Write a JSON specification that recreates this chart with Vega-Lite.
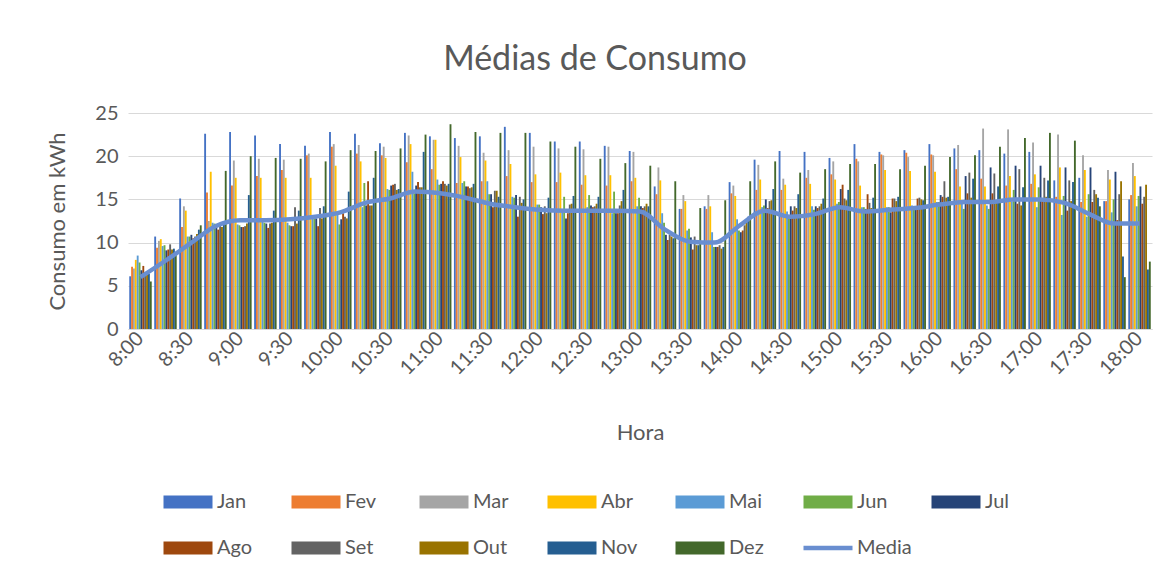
{
"$schema": "https://vega.github.io/schema/vega-lite/v6.json",
"width": 1024,
"height": 216,
"autosize": {"type": "none"},
"padding": {"left": 128, "top": 113, "right": 17, "bottom": 244},
"background": "white",
"config": {"font": "Lato", "view": {"stroke": null}},
"title": {"text": "Médias de Consumo", "font": "Lato", "fontSize": 34, "fontWeight": "normal", "color": "#595959", "anchor": "middle", "frame": "group", "offset": 26, "dx": -45},
"data": {"values": [
{"h":"8:00","m":"Jan","v":6.1},{"h":"8:00","m":"Fev","v":7.2},{"h":"8:00","m":"Mar","v":7.0},{"h":"8:00","m":"Abr","v":8.0},{"h":"8:00","m":"Mai","v":8.5},{"h":"8:00","m":"Jun","v":7.7},{"h":"8:00","m":"Jul","v":6.8},{"h":"8:00","m":"Ago","v":7.3},{"h":"8:00","m":"Set","v":6.6},{"h":"8:00","m":"Out","v":6.7},{"h":"8:00","m":"Nov","v":6.4},{"h":"8:00","m":"Dez","v":5.5},{"h":"8:00","m":"Media","v":6.0},
{"h":"8:15","m":"Jan","v":10.7},{"h":"8:15","m":"Fev","v":9.4},{"h":"8:15","m":"Mar","v":10.2},{"h":"8:15","m":"Abr","v":10.4},{"h":"8:15","m":"Mai","v":9.6},{"h":"8:15","m":"Jun","v":9.7},{"h":"8:15","m":"Jul","v":9.1},{"h":"8:15","m":"Ago","v":9.2},{"h":"8:15","m":"Set","v":9.8},{"h":"8:15","m":"Out","v":9.2},{"h":"8:15","m":"Nov","v":9.3},{"h":"8:15","m":"Dez","v":8.9},{"h":"8:15","m":"Media","v":7.9},
{"h":"8:30","m":"Jan","v":15.1},{"h":"8:30","m":"Fev","v":11.8},{"h":"8:30","m":"Mar","v":14.2},{"h":"8:30","m":"Abr","v":13.7},{"h":"8:30","m":"Mai","v":10.7},{"h":"8:30","m":"Jun","v":10.7},{"h":"8:30","m":"Jul","v":10.9},{"h":"8:30","m":"Ago","v":10.5},{"h":"8:30","m":"Set","v":10.7},{"h":"8:30","m":"Out","v":11.0},{"h":"8:30","m":"Nov","v":11.5},{"h":"8:30","m":"Dez","v":12.0},{"h":"8:30","m":"Media","v":9.9},
{"h":"8:45","m":"Jan","v":22.6},{"h":"8:45","m":"Fev","v":15.8},{"h":"8:45","m":"Mar","v":12.5},{"h":"8:45","m":"Abr","v":18.2},{"h":"8:45","m":"Mai","v":12.3},{"h":"8:45","m":"Jun","v":12.2},{"h":"8:45","m":"Jul","v":11.8},{"h":"8:45","m":"Ago","v":11.5},{"h":"8:45","m":"Set","v":12.0},{"h":"8:45","m":"Out","v":11.8},{"h":"8:45","m":"Nov","v":12.5},{"h":"8:45","m":"Dez","v":18.3},{"h":"8:45","m":"Media","v":11.9},
{"h":"9:00","m":"Jan","v":22.8},{"h":"9:00","m":"Fev","v":16.6},{"h":"9:00","m":"Mar","v":19.5},{"h":"9:00","m":"Abr","v":17.5},{"h":"9:00","m":"Mai","v":12.1},{"h":"9:00","m":"Jun","v":12.0},{"h":"9:00","m":"Jul","v":11.8},{"h":"9:00","m":"Ago","v":11.8},{"h":"9:00","m":"Set","v":11.9},{"h":"9:00","m":"Out","v":12.2},{"h":"9:00","m":"Nov","v":15.5},{"h":"9:00","m":"Dez","v":20.0},{"h":"9:00","m":"Media","v":12.6},
{"h":"9:15","m":"Jan","v":22.4},{"h":"9:15","m":"Fev","v":17.7},{"h":"9:15","m":"Mar","v":19.7},{"h":"9:15","m":"Abr","v":17.5},{"h":"9:15","m":"Mai","v":12.4},{"h":"9:15","m":"Jun","v":12.3},{"h":"9:15","m":"Jul","v":12.2},{"h":"9:15","m":"Ago","v":11.7},{"h":"9:15","m":"Set","v":12.2},{"h":"9:15","m":"Out","v":12.3},{"h":"9:15","m":"Nov","v":13.7},{"h":"9:15","m":"Dez","v":19.8},{"h":"9:15","m":"Media","v":12.6},
{"h":"9:30","m":"Jan","v":21.4},{"h":"9:30","m":"Fev","v":18.4},{"h":"9:30","m":"Mar","v":19.6},{"h":"9:30","m":"Abr","v":17.5},{"h":"9:30","m":"Mai","v":12.3},{"h":"9:30","m":"Jun","v":12.0},{"h":"9:30","m":"Jul","v":11.9},{"h":"9:30","m":"Ago","v":11.9},{"h":"9:30","m":"Set","v":14.1},{"h":"9:30","m":"Out","v":12.2},{"h":"9:30","m":"Nov","v":13.7},{"h":"9:30","m":"Dez","v":19.7},{"h":"9:30","m":"Media","v":12.7},
{"h":"9:45","m":"Jan","v":21.2},{"h":"9:45","m":"Fev","v":20.1},{"h":"9:45","m":"Mar","v":20.3},{"h":"9:45","m":"Abr","v":17.5},{"h":"9:45","m":"Mai","v":13.0},{"h":"9:45","m":"Jun","v":12.8},{"h":"9:45","m":"Jul","v":12.8},{"h":"9:45","m":"Ago","v":11.9},{"h":"9:45","m":"Set","v":14.0},{"h":"9:45","m":"Out","v":12.8},{"h":"9:45","m":"Nov","v":14.2},{"h":"9:45","m":"Dez","v":19.4},{"h":"9:45","m":"Media","v":13.0},
{"h":"10:00","m":"Jan","v":22.8},{"h":"10:00","m":"Fev","v":21.1},{"h":"10:00","m":"Mar","v":21.4},{"h":"10:00","m":"Abr","v":18.9},{"h":"10:00","m":"Mai","v":13.4},{"h":"10:00","m":"Jun","v":12.1},{"h":"10:00","m":"Jul","v":12.7},{"h":"10:00","m":"Ago","v":13.4},{"h":"10:00","m":"Set","v":13.0},{"h":"10:00","m":"Out","v":12.8},{"h":"10:00","m":"Nov","v":15.9},{"h":"10:00","m":"Dez","v":20.7},{"h":"10:00","m":"Media","v":13.5},
{"h":"10:15","m":"Jan","v":22.6},{"h":"10:15","m":"Fev","v":20.3},{"h":"10:15","m":"Mar","v":21.3},{"h":"10:15","m":"Abr","v":19.4},{"h":"10:15","m":"Mai","v":14.1},{"h":"10:15","m":"Jun","v":16.9},{"h":"10:15","m":"Jul","v":14.3},{"h":"10:15","m":"Ago","v":17.1},{"h":"10:15","m":"Set","v":14.3},{"h":"10:15","m":"Out","v":14.3},{"h":"10:15","m":"Nov","v":17.5},{"h":"10:15","m":"Dez","v":20.6},{"h":"10:15","m":"Media","v":14.6},
{"h":"10:30","m":"Jan","v":21.5},{"h":"10:30","m":"Fev","v":20.1},{"h":"10:30","m":"Mar","v":21.1},{"h":"10:30","m":"Abr","v":19.8},{"h":"10:30","m":"Mai","v":16.2},{"h":"10:30","m":"Jun","v":16.1},{"h":"10:30","m":"Jul","v":16.6},{"h":"10:30","m":"Ago","v":16.7},{"h":"10:30","m":"Set","v":16.8},{"h":"10:30","m":"Out","v":16.1},{"h":"10:30","m":"Nov","v":16.2},{"h":"10:30","m":"Dez","v":20.9},{"h":"10:30","m":"Media","v":15.1},
{"h":"10:45","m":"Jan","v":22.7},{"h":"10:45","m":"Fev","v":19.3},{"h":"10:45","m":"Mar","v":22.4},{"h":"10:45","m":"Abr","v":21.4},{"h":"10:45","m":"Mai","v":18.2},{"h":"10:45","m":"Jun","v":15.7},{"h":"10:45","m":"Jul","v":16.6},{"h":"10:45","m":"Ago","v":17.0},{"h":"10:45","m":"Set","v":16.4},{"h":"10:45","m":"Out","v":16.4},{"h":"10:45","m":"Nov","v":20.5},{"h":"10:45","m":"Dez","v":22.5},{"h":"10:45","m":"Media","v":15.9},
{"h":"11:00","m":"Jan","v":22.3},{"h":"11:00","m":"Fev","v":18.5},{"h":"11:00","m":"Mar","v":21.9},{"h":"11:00","m":"Abr","v":21.9},{"h":"11:00","m":"Mai","v":17.3},{"h":"11:00","m":"Jun","v":16.7},{"h":"11:00","m":"Jul","v":16.8},{"h":"11:00","m":"Ago","v":17.1},{"h":"11:00","m":"Set","v":16.8},{"h":"11:00","m":"Out","v":16.6},{"h":"11:00","m":"Nov","v":16.8},{"h":"11:00","m":"Dez","v":23.7},{"h":"11:00","m":"Media","v":15.7},
{"h":"11:15","m":"Jan","v":22.1},{"h":"11:15","m":"Fev","v":16.9},{"h":"11:15","m":"Mar","v":21.2},{"h":"11:15","m":"Abr","v":19.9},{"h":"11:15","m":"Mai","v":16.9},{"h":"11:15","m":"Jun","v":17.1},{"h":"11:15","m":"Jul","v":16.5},{"h":"11:15","m":"Ago","v":16.5},{"h":"11:15","m":"Set","v":16.3},{"h":"11:15","m":"Out","v":16.4},{"h":"11:15","m":"Nov","v":16.8},{"h":"11:15","m":"Dez","v":22.8},{"h":"11:15","m":"Media","v":15.2},
{"h":"11:30","m":"Jan","v":22.3},{"h":"11:30","m":"Fev","v":17.1},{"h":"11:30","m":"Mar","v":20.4},{"h":"11:30","m":"Abr","v":19.5},{"h":"11:30","m":"Mai","v":17.1},{"h":"11:30","m":"Jun","v":15.6},{"h":"11:30","m":"Jul","v":15.6},{"h":"11:30","m":"Ago","v":14.1},{"h":"11:30","m":"Set","v":16.0},{"h":"11:30","m":"Out","v":16.0},{"h":"11:30","m":"Nov","v":15.3},{"h":"11:30","m":"Dez","v":22.7},{"h":"11:30","m":"Media","v":14.5},
{"h":"11:45","m":"Jan","v":23.4},{"h":"11:45","m":"Fev","v":17.7},{"h":"11:45","m":"Mar","v":20.7},{"h":"11:45","m":"Abr","v":19.1},{"h":"11:45","m":"Mai","v":15.3},{"h":"11:45","m":"Jun","v":15.2},{"h":"11:45","m":"Jul","v":15.5},{"h":"11:45","m":"Ago","v":13.0},{"h":"11:45","m":"Set","v":15.3},{"h":"11:45","m":"Out","v":14.6},{"h":"11:45","m":"Nov","v":15.0},{"h":"11:45","m":"Dez","v":22.7},{"h":"11:45","m":"Media","v":14.1},
{"h":"12:00","m":"Jan","v":22.7},{"h":"12:00","m":"Fev","v":17.0},{"h":"12:00","m":"Mar","v":21.1},{"h":"12:00","m":"Abr","v":17.9},{"h":"12:00","m":"Mai","v":14.4},{"h":"12:00","m":"Jun","v":14.4},{"h":"12:00","m":"Jul","v":14.1},{"h":"12:00","m":"Ago","v":13.3},{"h":"12:00","m":"Set","v":14.2},{"h":"12:00","m":"Out","v":13.4},{"h":"12:00","m":"Nov","v":15.2},{"h":"12:00","m":"Dez","v":21.7},{"h":"12:00","m":"Media","v":13.8},
{"h":"12:15","m":"Jan","v":21.7},{"h":"12:15","m":"Fev","v":17.0},{"h":"12:15","m":"Mar","v":20.9},{"h":"12:15","m":"Abr","v":18.1},{"h":"12:15","m":"Mai","v":13.7},{"h":"12:15","m":"Jun","v":15.3},{"h":"12:15","m":"Jul","v":12.8},{"h":"12:15","m":"Ago","v":13.4},{"h":"12:15","m":"Set","v":14.4},{"h":"12:15","m":"Out","v":14.5},{"h":"12:15","m":"Nov","v":15.4},{"h":"12:15","m":"Dez","v":21.1},{"h":"12:15","m":"Media","v":13.7},
{"h":"12:30","m":"Jan","v":21.7},{"h":"12:30","m":"Fev","v":16.7},{"h":"12:30","m":"Mar","v":20.8},{"h":"12:30","m":"Abr","v":17.8},{"h":"12:30","m":"Mai","v":14.1},{"h":"12:30","m":"Jun","v":15.5},{"h":"12:30","m":"Jul","v":14.3},{"h":"12:30","m":"Ago","v":14.1},{"h":"12:30","m":"Set","v":14.2},{"h":"12:30","m":"Out","v":14.5},{"h":"12:30","m":"Nov","v":15.3},{"h":"12:30","m":"Dez","v":19.7},{"h":"12:30","m":"Media","v":13.7},
{"h":"12:45","m":"Jan","v":21.2},{"h":"12:45","m":"Fev","v":16.6},{"h":"12:45","m":"Mar","v":21.1},{"h":"12:45","m":"Abr","v":17.8},{"h":"12:45","m":"Mai","v":13.4},{"h":"12:45","m":"Jun","v":15.9},{"h":"12:45","m":"Jul","v":13.4},{"h":"12:45","m":"Ago","v":13.4},{"h":"12:45","m":"Set","v":14.3},{"h":"12:45","m":"Out","v":14.8},{"h":"12:45","m":"Nov","v":16.1},{"h":"12:45","m":"Dez","v":19.2},{"h":"12:45","m":"Media","v":13.7},
{"h":"13:00","m":"Jan","v":20.6},{"h":"13:00","m":"Fev","v":17.1},{"h":"13:00","m":"Mar","v":20.5},{"h":"13:00","m":"Abr","v":17.5},{"h":"13:00","m":"Mai","v":14.2},{"h":"13:00","m":"Jun","v":15.2},{"h":"13:00","m":"Jul","v":14.2},{"h":"13:00","m":"Ago","v":14.0},{"h":"13:00","m":"Set","v":14.2},{"h":"13:00","m":"Out","v":14.5},{"h":"13:00","m":"Nov","v":14.2},{"h":"13:00","m":"Dez","v":18.9},{"h":"13:00","m":"Media","v":13.6},
{"h":"13:15","m":"Jan","v":16.5},{"h":"13:15","m":"Fev","v":15.6},{"h":"13:15","m":"Mar","v":18.7},{"h":"13:15","m":"Abr","v":17.2},{"h":"13:15","m":"Mai","v":13.4},{"h":"13:15","m":"Jun","v":12.3},{"h":"13:15","m":"Jul","v":10.9},{"h":"13:15","m":"Ago","v":10.3},{"h":"13:15","m":"Set","v":10.9},{"h":"13:15","m":"Out","v":10.7},{"h":"13:15","m":"Nov","v":10.5},{"h":"13:15","m":"Dez","v":17.1},{"h":"13:15","m":"Media","v":11.5},
{"h":"13:30","m":"Jan","v":13.9},{"h":"13:30","m":"Fev","v":13.9},{"h":"13:30","m":"Mar","v":15.5},{"h":"13:30","m":"Abr","v":14.8},{"h":"13:30","m":"Mai","v":11.4},{"h":"13:30","m":"Jun","v":11.6},{"h":"13:30","m":"Jul","v":10.6},{"h":"13:30","m":"Ago","v":9.2},{"h":"13:30","m":"Set","v":10.7},{"h":"13:30","m":"Out","v":9.7},{"h":"13:30","m":"Nov","v":9.7},{"h":"13:30","m":"Dez","v":14.0},{"h":"13:30","m":"Media","v":10.1},
{"h":"13:45","m":"Jan","v":14.2},{"h":"13:45","m":"Fev","v":13.9},{"h":"13:45","m":"Mar","v":15.5},{"h":"13:45","m":"Abr","v":14.2},{"h":"13:45","m":"Mai","v":11.2},{"h":"13:45","m":"Jun","v":9.5},{"h":"13:45","m":"Jul","v":9.5},{"h":"13:45","m":"Ago","v":9.5},{"h":"13:45","m":"Set","v":9.7},{"h":"13:45","m":"Out","v":9.3},{"h":"13:45","m":"Nov","v":9.5},{"h":"13:45","m":"Dez","v":14.9},{"h":"13:45","m":"Media","v":10.0},
{"h":"14:00","m":"Jan","v":17.0},{"h":"14:00","m":"Fev","v":15.7},{"h":"14:00","m":"Mar","v":16.6},{"h":"14:00","m":"Abr","v":15.4},{"h":"14:00","m":"Mai","v":12.7},{"h":"14:00","m":"Jun","v":11.4},{"h":"14:00","m":"Jul","v":11.2},{"h":"14:00","m":"Ago","v":11.4},{"h":"14:00","m":"Set","v":12.0},{"h":"14:00","m":"Out","v":12.7},{"h":"14:00","m":"Nov","v":13.0},{"h":"14:00","m":"Dez","v":17.1},{"h":"14:00","m":"Media","v":12.0},
{"h":"14:15","m":"Jan","v":19.6},{"h":"14:15","m":"Fev","v":16.1},{"h":"14:15","m":"Mar","v":19.0},{"h":"14:15","m":"Abr","v":17.3},{"h":"14:15","m":"Mai","v":14.1},{"h":"14:15","m":"Jun","v":14.3},{"h":"14:15","m":"Jul","v":15.0},{"h":"14:15","m":"Ago","v":14.0},{"h":"14:15","m":"Set","v":14.8},{"h":"14:15","m":"Out","v":14.9},{"h":"14:15","m":"Nov","v":16.2},{"h":"14:15","m":"Dez","v":19.4},{"h":"14:15","m":"Media","v":13.7},
{"h":"14:30","m":"Jan","v":20.6},{"h":"14:30","m":"Fev","v":16.1},{"h":"14:30","m":"Mar","v":17.4},{"h":"14:30","m":"Abr","v":16.7},{"h":"14:30","m":"Mai","v":13.6},{"h":"14:30","m":"Jun","v":13.2},{"h":"14:30","m":"Jul","v":14.2},{"h":"14:30","m":"Ago","v":13.7},{"h":"14:30","m":"Set","v":14.2},{"h":"14:30","m":"Out","v":14.0},{"h":"14:30","m":"Nov","v":15.6},{"h":"14:30","m":"Dez","v":18.1},{"h":"14:30","m":"Media","v":13.0},
{"h":"14:45","m":"Jan","v":20.5},{"h":"14:45","m":"Fev","v":17.5},{"h":"14:45","m":"Mar","v":18.4},{"h":"14:45","m":"Abr","v":16.8},{"h":"14:45","m":"Mai","v":14.2},{"h":"14:45","m":"Jun","v":13.8},{"h":"14:45","m":"Jul","v":14.2},{"h":"14:45","m":"Ago","v":14.0},{"h":"14:45","m":"Set","v":14.2},{"h":"14:45","m":"Out","v":14.5},{"h":"14:45","m":"Nov","v":15.1},{"h":"14:45","m":"Dez","v":18.5},{"h":"14:45","m":"Media","v":13.3},
{"h":"15:00","m":"Jan","v":19.8},{"h":"15:00","m":"Fev","v":17.9},{"h":"15:00","m":"Mar","v":19.4},{"h":"15:00","m":"Abr","v":17.3},{"h":"15:00","m":"Mai","v":14.5},{"h":"15:00","m":"Jun","v":14.7},{"h":"15:00","m":"Jul","v":16.2},{"h":"15:00","m":"Ago","v":16.7},{"h":"15:00","m":"Set","v":15.1},{"h":"15:00","m":"Out","v":14.9},{"h":"15:00","m":"Nov","v":16.1},{"h":"15:00","m":"Dez","v":19.1},{"h":"15:00","m":"Media","v":14.1},
{"h":"15:15","m":"Jan","v":21.4},{"h":"15:15","m":"Fev","v":19.7},{"h":"15:15","m":"Mar","v":19.4},{"h":"15:15","m":"Abr","v":16.6},{"h":"15:15","m":"Mai","v":14.1},{"h":"15:15","m":"Jun","v":14.1},{"h":"15:15","m":"Jul","v":13.9},{"h":"15:15","m":"Ago","v":15.6},{"h":"15:15","m":"Set","v":14.6},{"h":"15:15","m":"Out","v":14.0},{"h":"15:15","m":"Nov","v":15.2},{"h":"15:15","m":"Dez","v":19.1},{"h":"15:15","m":"Media","v":13.6},
{"h":"15:30","m":"Jan","v":20.5},{"h":"15:30","m":"Fev","v":20.2},{"h":"15:30","m":"Mar","v":20.1},{"h":"15:30","m":"Abr","v":18.4},{"h":"15:30","m":"Mai","v":14.1},{"h":"15:30","m":"Jun","v":14.1},{"h":"15:30","m":"Jul","v":13.5},{"h":"15:30","m":"Ago","v":15.1},{"h":"15:30","m":"Set","v":15.1},{"h":"15:30","m":"Out","v":14.8},{"h":"15:30","m":"Nov","v":15.3},{"h":"15:30","m":"Dez","v":18.5},{"h":"15:30","m":"Media","v":13.8},
{"h":"15:45","m":"Jan","v":20.7},{"h":"15:45","m":"Fev","v":20.4},{"h":"15:45","m":"Mar","v":19.9},{"h":"15:45","m":"Abr","v":18.3},{"h":"15:45","m":"Mai","v":14.3},{"h":"15:45","m":"Jun","v":13.8},{"h":"15:45","m":"Jul","v":13.9},{"h":"15:45","m":"Ago","v":15.1},{"h":"15:45","m":"Set","v":15.2},{"h":"15:45","m":"Out","v":15.0},{"h":"15:45","m":"Nov","v":14.9},{"h":"15:45","m":"Dez","v":18.9},{"h":"15:45","m":"Media","v":14.0},
{"h":"16:00","m":"Jan","v":21.4},{"h":"16:00","m":"Fev","v":20.2},{"h":"16:00","m":"Mar","v":20.1},{"h":"16:00","m":"Abr","v":18.2},{"h":"16:00","m":"Mai","v":14.7},{"h":"16:00","m":"Jun","v":14.7},{"h":"16:00","m":"Jul","v":15.5},{"h":"16:00","m":"Ago","v":15.3},{"h":"16:00","m":"Set","v":17.1},{"h":"16:00","m":"Out","v":15.2},{"h":"16:00","m":"Nov","v":15.3},{"h":"16:00","m":"Dez","v":19.9},{"h":"16:00","m":"Media","v":14.4},
{"h":"16:15","m":"Jan","v":20.9},{"h":"16:15","m":"Fev","v":18.5},{"h":"16:15","m":"Mar","v":21.3},{"h":"16:15","m":"Abr","v":16.5},{"h":"16:15","m":"Mai","v":14.5},{"h":"16:15","m":"Jun","v":13.9},{"h":"16:15","m":"Jul","v":17.7},{"h":"16:15","m":"Ago","v":15.7},{"h":"16:15","m":"Set","v":18.1},{"h":"16:15","m":"Out","v":15.2},{"h":"16:15","m":"Nov","v":17.4},{"h":"16:15","m":"Dez","v":20.1},{"h":"16:15","m":"Media","v":14.7},
{"h":"16:30","m":"Jan","v":20.7},{"h":"16:30","m":"Fev","v":17.4},{"h":"16:30","m":"Mar","v":23.2},{"h":"16:30","m":"Abr","v":16.5},{"h":"16:30","m":"Mai","v":14.3},{"h":"16:30","m":"Jun","v":13.9},{"h":"16:30","m":"Jul","v":18.7},{"h":"16:30","m":"Ago","v":15.7},{"h":"16:30","m":"Set","v":18.0},{"h":"16:30","m":"Out","v":14.8},{"h":"16:30","m":"Nov","v":16.5},{"h":"16:30","m":"Dez","v":21.1},{"h":"16:30","m":"Media","v":14.7},
{"h":"16:45","m":"Jan","v":20.3},{"h":"16:45","m":"Fev","v":16.6},{"h":"16:45","m":"Mar","v":23.1},{"h":"16:45","m":"Abr","v":17.7},{"h":"16:45","m":"Mai","v":14.7},{"h":"16:45","m":"Jun","v":16.1},{"h":"16:45","m":"Jul","v":18.9},{"h":"16:45","m":"Ago","v":14.5},{"h":"16:45","m":"Set","v":18.5},{"h":"16:45","m":"Out","v":14.3},{"h":"16:45","m":"Nov","v":16.4},{"h":"16:45","m":"Dez","v":22.1},{"h":"16:45","m":"Media","v":15.0},
{"h":"17:00","m":"Jan","v":20.5},{"h":"17:00","m":"Fev","v":16.8},{"h":"17:00","m":"Mar","v":21.6},{"h":"17:00","m":"Abr","v":17.9},{"h":"17:00","m":"Mai","v":14.1},{"h":"17:00","m":"Jun","v":16.4},{"h":"17:00","m":"Jul","v":18.9},{"h":"17:00","m":"Ago","v":14.8},{"h":"17:00","m":"Set","v":17.5},{"h":"17:00","m":"Out","v":15.3},{"h":"17:00","m":"Nov","v":17.2},{"h":"17:00","m":"Dez","v":22.7},{"h":"17:00","m":"Media","v":15.0},
{"h":"17:15","m":"Jan","v":17.2},{"h":"17:15","m":"Fev","v":15.3},{"h":"17:15","m":"Mar","v":22.5},{"h":"17:15","m":"Abr","v":18.7},{"h":"17:15","m":"Mai","v":13.2},{"h":"17:15","m":"Jun","v":15.4},{"h":"17:15","m":"Jul","v":18.7},{"h":"17:15","m":"Ago","v":13.7},{"h":"17:15","m":"Set","v":17.2},{"h":"17:15","m":"Out","v":14.8},{"h":"17:15","m":"Nov","v":17.0},{"h":"17:15","m":"Dez","v":21.8},{"h":"17:15","m":"Media","v":14.6},
{"h":"17:30","m":"Jan","v":17.5},{"h":"17:30","m":"Fev","v":14.7},{"h":"17:30","m":"Mar","v":20.1},{"h":"17:30","m":"Abr","v":18.4},{"h":"17:30","m":"Mai","v":13.0},{"h":"17:30","m":"Jun","v":15.6},{"h":"17:30","m":"Jul","v":18.7},{"h":"17:30","m":"Ago","v":14.7},{"h":"17:30","m":"Set","v":16.1},{"h":"17:30","m":"Out","v":15.6},{"h":"17:30","m":"Nov","v":15.2},{"h":"17:30","m":"Dez","v":14.2},{"h":"17:30","m":"Media","v":13.3},
{"h":"17:45","m":"Jan","v":14.8},{"h":"17:45","m":"Fev","v":14.8},{"h":"17:45","m":"Mar","v":18.4},{"h":"17:45","m":"Abr","v":17.3},{"h":"17:45","m":"Mai","v":13.5},{"h":"17:45","m":"Jun","v":15.0},{"h":"17:45","m":"Jul","v":18.2},{"h":"17:45","m":"Ago","v":12.6},{"h":"17:45","m":"Set","v":15.6},{"h":"17:45","m":"Out","v":17.1},{"h":"17:45","m":"Nov","v":8.4},{"h":"17:45","m":"Dez","v":6.0},{"h":"17:45","m":"Media","v":12.2},
{"h":"18:00","m":"Jan","v":15.0},{"h":"18:00","m":"Fev","v":15.5},{"h":"18:00","m":"Mar","v":19.2},{"h":"18:00","m":"Abr","v":17.7},{"h":"18:00","m":"Mai","v":14.2},{"h":"18:00","m":"Jun","v":15.4},{"h":"18:00","m":"Jul","v":16.5},{"h":"18:00","m":"Ago","v":14.5},{"h":"18:00","m":"Set","v":15.3},{"h":"18:00","m":"Out","v":16.7},{"h":"18:00","m":"Nov","v":6.9},{"h":"18:00","m":"Dez","v":7.8},{"h":"18:00","m":"Media","v":12.2}
]},
"layer": [
{
"transform": [{"filter": "datum.m != 'Media'"}],
"mark": {"type": "bar"},
"encoding": {
"x": {"field": "h", "type": "nominal", "title": "Hora",
"scale": {"domain": ["8:00","8:15","8:30","8:45","9:00","9:15","9:30","9:45","10:00","10:15","10:30","10:45","11:00","11:15","11:30","11:45","12:00","12:15","12:30","12:45","13:00","13:15","13:30","13:45","14:00","14:15","14:30","14:45","15:00","15:15","15:30","15:45","16:00","16:15","16:30","16:45","17:00","17:15","17:30","17:45","18:00"], "paddingInner": 0.1, "paddingOuter": 0.05},
"axis": {"values": ["8:00","8:30","9:00","9:30","10:00","10:30","11:00","11:30","12:00","12:30","13:00","13:30","14:00","14:30","15:00","15:30","16:00","16:30","17:00","17:30","18:00"], "labelAngle": -45, "labelAlign": "right", "labelBaseline": "middle", "ticks": false, "domainColor": "#D9D9D9", "domainWidth": 1, "labelFont": "Lato", "labelFontSize": 20, "labelColor": "#595959", "labelPadding": 6, "titleFont": "Lato", "titleFontSize": 22, "titleFontWeight": "normal", "titleColor": "#595959", "titlePadding": 44}},
"xOffset": {"field": "m", "type": "nominal", "scale": {"domain": ["Jan","Fev","Mar","Abr","Mai","Jun","Jul","Ago","Set","Out","Nov","Dez"], "paddingInner": 0, "paddingOuter": 0}},
"y": {"field": "v", "type": "quantitative", "title": "Consumo em kWh",
"scale": {"domain": [0, 25], "nice": false},
"axis": {"values": [0,5,10,15,20,25], "grid": true, "gridColor": "#D9D9D9", "gridWidth": 1, "domain": false, "ticks": false, "labelFont": "Lato", "labelFontSize": 20, "labelColor": "#595959", "labelPadding": 10, "titleFont": "Lato", "titleFontSize": 22, "titleFontWeight": "normal", "titleColor": "#595959", "titlePadding": 25}},
"color": {"field": "m", "type": "nominal",
"scale": {"domain": ["Jan","Fev","Mar","Abr","Mai","Jun","Jul","Ago","Set","Out","Nov","Dez","Media"], "range": ["#4472C4","#ED7D31","#A5A5A5","#FFC000","#5B9BD5","#70AD47","#264478","#9E480E","#636363","#997300","#255E91","#43682B","#698ED0"]},
"legend": {"title": null, "orient": "none", "legendX": 50, "legendY": 379, "direction": "horizontal", "columns": 7, "gridAlign": "all", "columnPadding": 10, "rowPadding": 26, "padding": 0, "symbolSize": 2401, "symbolType": "M-1,-0.27H1V0.27H-1Z", "labelOffset": 19, "labelFont": "Lato", "labelFontSize": 20, "labelColor": "#595959",
"encode": {"symbols": {"update": {
"shape": {"signal": "datum.value == 'Media' ? 'M-1,0H1' : 'M-1,-0.27H1V0.27H-1Z'"},
"fill": {"signal": "datum.value == 'Media' ? 'transparent' : scale('color', datum.value)"},
"stroke": {"signal": "datum.value == 'Media' ? scale('color', datum.value) : 'transparent'"},
"strokeWidth": {"signal": "datum.value == 'Media' ? 4.5 : 0"},
"opacity": {"value": 1}, "fillOpacity": {"value": 1}, "strokeOpacity": {"value": 1}}}}}
}
}
},
{
"transform": [{"filter": "datum.m == 'Media'"}],
"mark": {"type": "line", "strokeWidth": 4.5, "interpolate": "monotone"},
"encoding": {
"x": {"field": "h", "type": "nominal"},
"y": {"field": "v", "type": "quantitative"},
"color": {"field": "m", "type": "nominal"}
}
}
]
}
